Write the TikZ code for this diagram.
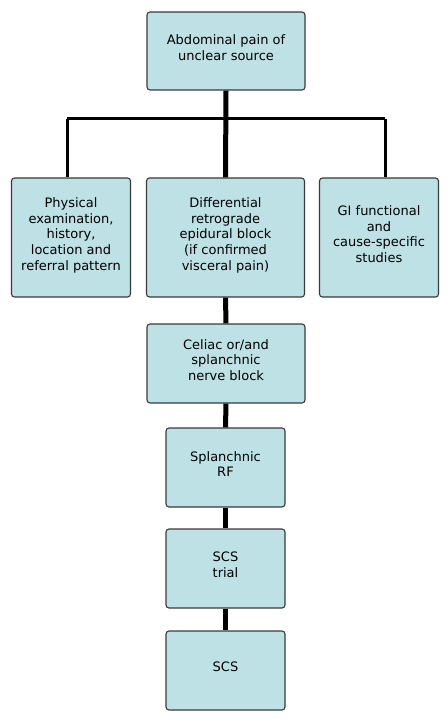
\documentclass[tikz,border=0pt]{standalone}
\usepackage{fontspec}
\setmainfont{DejaVu Sans}
\definecolor{boxfill}{HTML}{BDE1E5}
\definecolor{boxline}{HTML}{3A3A3A}
\begin{document}
\begin{tikzpicture}[x=1pt,y=-1pt,
  stepbox/.style={draw=boxline,fill=boxfill,line width=1.1pt,rounded corners=3pt,
    align=center,font=\fontsize{13}{15.7}\selectfont,inner sep=0pt,text depth=7pt},
  wide/.style={stepbox,minimum width=158pt},
  narrow/.style={stepbox,minimum width=119pt},
  trunk/.style={line width=5pt},
  branch/.style={line width=3pt}]
  \useasboundingbox (0,0) rectangle (447,719);
   \node[wide,minimum height=78pt] (pain) at (226,51) {Abdominal pain of\\unclear source};
   \node[narrow,minimum height=119pt] (exam) at (71,237.5)
      {Physical\\examination,\\history,\\location and\\referral pattern};
   \node[wide,minimum height=119pt] (block) at (225.5,237.5)
      {Differential\\retrograde\\epidural block\\(if confirmed\\visceral pain)};
   \node[narrow,minimum height=119pt] (gi) at (379,237.5)
      {GI functional\\and\\cause-specific\\studies};
   \node[wide,minimum height=79pt] (celiac) at (226,363.5) {Celiac or/and\\splanchnic\\nerve block};
   \node[narrow,minimum height=79pt] (rf) at (225.5,467.5) {Splanchnic\\RF};
   \node[narrow,minimum height=79pt] (trial) at (225.5,568.5) {SCS\\trial};
   \node[narrow,minimum height=79pt] (scs) at (225.5,670.5) {SCS};
   \coordinate (busl) at (67,119);
   \coordinate (busr) at (385,119);
     \draw[branch] (busl) -- (busr);
     \draw[branch] (busl) -- (busl |- exam.north);
     \draw[branch] (busr) -- (busr |- gi.north);
   \draw[trunk] (pain.south) -- (block.north);
   \draw[trunk] (block.south) -- (celiac.north);
   \draw[trunk] (celiac.south) -- (rf.north);
   \draw[trunk] (rf.south) -- (trial.north);
   \draw[trunk] (trial.south) -- (scs.north);
\end{tikzpicture}
\end{document}
